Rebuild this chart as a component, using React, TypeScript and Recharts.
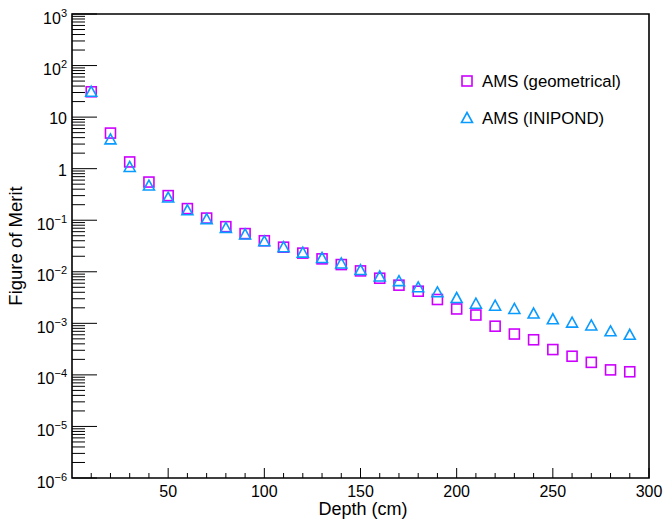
import { ScatterChart, Scatter, XAxis, YAxis, ReferenceArea } from "recharts";

// depth (cm) and figure of merit
const DEPTH = [10, 20, 30, 40, 50, 60, 70, 80, 90, 100, 110, 120, 130, 140, 150, 160, 170, 180, 190, 200, 210, 220, 230, 240, 250, 260, 270, 280, 290];
const FOM_GEOMETRICAL = [31, 4.9, 1.35, 0.55, 0.3, 0.168, 0.11, 0.075, 0.055, 0.04, 0.03, 0.023, 0.0178, 0.0138, 0.0104, 0.0075, 0.0055, 0.0042, 0.0029, 0.0019, 0.00145, 0.00088, 0.00062, 0.00048, 0.00031, 0.00023, 0.000175, 0.000125, 0.000115];
const FOM_INIPOND = [31, 3.7, 1.08, 0.47, 0.275, 0.156, 0.105, 0.071, 0.053, 0.039, 0.03, 0.0235, 0.0185, 0.0145, 0.0108, 0.0081, 0.0066, 0.005, 0.004, 0.0031, 0.0024, 0.0022, 0.0019, 0.00155, 0.0012, 0.00103, 0.00091, 0.0007, 0.0006];

const X_MAJOR = [50, 100, 150, 200, 250, 300];
const X_TICKS = [10, 20, 30, 40, 50, 60, 70, 80, 90, 100, 110, 120, 130, 140, 150, 160, 170, 180, 190, 200, 210, 220, 230, 240, 250, 260, 270, 280, 290, 300];
const Y_DECADES = [-6, -5, -4, -3, -2, -1, 0, 1, 2, 3];
const Y_MINOR_MULT = [2, 3, 4, 5, 6, 7, 8, 9];

const SERIES = [
  { name: "AMS (geometrical)", values: FOM_GEOMETRICAL, color: "#cc00ff", marker: "square" },
  { name: "AMS (INIPOND)", values: FOM_INIPOND, color: "#0a9bff", marker: "triangle" },
];

const W = 665;
const H = 525;
const PLOT = { left: 72, right: 649, top: 14, bottom: 478 };
const FONT = '"Liberation Sans", Arial, Helvetica, sans-serif';

const yTicks: number[] = [];
Y_DECADES.forEach((d) => {
  yTicks.push(Math.pow(10, d));
  if (d < 3) Y_MINOR_MULT.forEach((m) => yTicks.push(m * Math.pow(10, d)));
});

function Marker({ kind, cx, cy, color }: { kind: string; cx: number; cy: number; color: string }) {
  if (kind === "square") {
    return <rect x={cx - 5} y={cy - 5} width={10} height={10} fill="none" stroke={color} strokeWidth={1.6} />;
  }
  return (
    <polygon
      points={`${cx},${cy - 5.5} ${cx + 5.5},${cy + 4.5} ${cx - 5.5},${cy + 4.5}`}
      fill="none"
      stroke={color}
      strokeWidth={1.6}
      strokeLinejoin="miter"
    />
  );
}

function YTick({ y, payload }: any) {
  const v = payload.value;
  const e = Math.round(Math.log10(v));
  const major = Math.abs(Math.log10(v) - e) < 1e-6;
  let label = null;
  if (major) {
    if (e === 0 || e === 1) {
      label = (
        <text x={67} y={y + 7} textAnchor="end" fontSize={16} fontFamily={FONT} fill="#000">
          {e === 0 ? "1" : "10"}
        </text>
      );
    } else {
      label = (
        <text x={67} y={y + 9.5} textAnchor="end" fontSize={16} fontFamily={FONT} fill="#000">
          10
          <tspan dy={-7} fontSize={11}>
            {e < 0 ? `\u2212${-e}` : `${e}`}
          </tspan>
        </text>
      );
    }
  }
  return (
    <g>
      <line x1={PLOT.left} x2={PLOT.left + (major ? 25 : 13)} y1={y} y2={y} stroke="#000" strokeWidth={1} />
      {label}
    </g>
  );
}

function XTick({ x, payload }: any) {
  const major = X_MAJOR.includes(payload.value);
  return (
    <g>
      <line x1={x} x2={x} y1={PLOT.bottom} y2={PLOT.bottom - (major ? 10 : 5)} stroke="#000" strokeWidth={1} />
      {major && (
        <text x={x} y={PLOT.bottom + 19} textAnchor="middle" fontSize={16} fontFamily={FONT} fill="#000">
          {payload.value}
        </text>
      )}
    </g>
  );
}

export default function App() {
  return (
    <div style={{ position: "absolute", left: 0, top: 0, width: W, height: H, background: "#fff" }}>
      <ScatterChart width={W} height={H} margin={{ top: PLOT.top, right: W - PLOT.right, bottom: 0, left: 0 }}>
        <XAxis
          type="number"
          dataKey="depth"
          domain={[0, 300]}
          ticks={X_TICKS}
          interval={0}
          height={H - PLOT.bottom}
          axisLine={false}
          tickLine={false}
          tick={XTick}
          label={{
            content: () => (
              <text x={363} y={515} textAnchor="middle" fontSize={18} fontFamily={FONT} fill="#000">
                Depth (cm)
              </text>
            ),
          }}
        />
        <YAxis
          type="number"
          dataKey="fom"
          scale="log"
          domain={[1e-6, 1000]}
          allowDataOverflow
          ticks={yTicks}
          interval={0}
          width={PLOT.left}
          axisLine={false}
          tickLine={false}
          tick={YTick}
          label={{
            content: () => (
              <text
                x={22}
                y={246}
                transform="rotate(-90 22 246)"
                textAnchor="middle"
                fontSize={18.5}
                fontFamily={FONT}
                fill="#000"
              >
                Figure of Merit
              </text>
            ),
          }}
        />
        <ReferenceArea x1={0} x2={300} y1={1e-6} y2={1000} fill="none" stroke="#000" strokeWidth={1.6} />
        {SERIES.map((s) => (
          <Scatter
            key={s.name}
            name={s.name}
            data={DEPTH.map((d, i) => ({ depth: d, fom: s.values[i] }))}
            isAnimationActive={false}
            shape={(p: any) => <Marker kind={s.marker} cx={p.cx} cy={p.cy} color={s.color} />}
          />
        ))}
      </ScatterChart>
      <svg width={220} height={70} style={{ position: "absolute", left: 450, top: 64 }}>
        {SERIES.map((s, i) => (
          <g key={s.name}>
            <Marker kind={s.marker} cx={17} cy={17 + i * 37} color={s.color} />
            <text x={32} y={17 + i * 37 + 6} fontSize={16.8} fontFamily={FONT} fill="#000">
              {s.name}
            </text>
          </g>
        ))}
      </svg>
    </div>
  );
}
